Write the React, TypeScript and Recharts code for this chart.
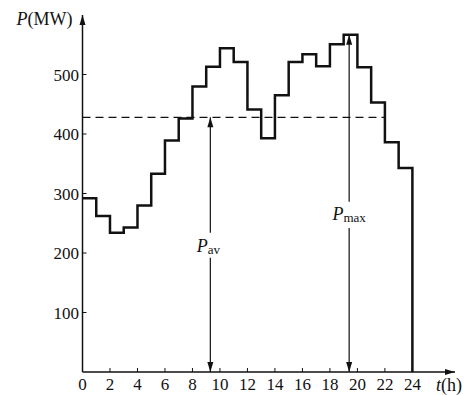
import { LineChart, Line, XAxis, YAxis, ReferenceLine, ReferenceDot } from 'recharts'

// hourly load (MW)
const hours = [0, 1, 2, 3, 4, 5, 6, 7, 8, 9, 10, 11, 12, 13, 14, 15, 16, 17, 18, 19, 20, 21, 22, 23]
const loads = [292, 262, 234, 243, 280, 333, 389, 426, 480, 513, 544, 521, 441, 393, 465, 521, 534, 514, 551, 567, 512, 453, 386, 343]

const xTicks = [0, 2, 4, 6, 8, 10, 12, 14, 16, 18, 20, 22, 24]
const yTicks = [100, 200, 300, 400, 500]

const pAv = 428
const pMax = 567
const tAv = 9.3
const tMax = 19.4
const xMax = 27.1
const yMax = 600

const ink = '#111'
const serif = '"Liberation Serif", "DejaVu Serif", serif'

const data = [
  ...hours.map((t, i) => ({ t, p: loads[i] })),
  { t: 24, p: 0 },
]

const ArrowHead = ({ cx, cy, dir }: any) => {
  const L = 10
  const W = 3
  let pts = ''
  if (dir === 'up') pts = `${cx},${cy} ${cx - W},${cy + L} ${cx + W},${cy + L}`
  if (dir === 'down') pts = `${cx},${cy} ${cx - W},${cy - L} ${cx + W},${cy - L}`
  if (dir === 'right') pts = `${cx},${cy} ${cx - L},${cy - W} ${cx - L},${cy + W}`
  return <polygon points={pts} fill={ink} />
}

const SubLabel = ({ cx, cy, main, sub }: any) => (
  <text x={cx} y={cy} textAnchor="middle" fontFamily={serif} fill={ink}>
    <tspan fontSize={18} fontStyle="italic">{main}</tspan>
    <tspan fontSize={13} dy={2}>{sub}</tspan>
  </text>
)

const XTick = ({ x, y, payload }: any) => (
  <text x={x} y={y} dy={13} textAnchor="middle" fontFamily={serif} fontSize={17} fill={ink}>
    {payload.value}
  </text>
)

const YTick = ({ x, y, payload }: any) => (
  <text x={x} y={y} dy={6} textAnchor="end" fontFamily={serif} fontSize={17} fill={ink}>
    {payload.value}
  </text>
)

export default function App() {
  return (
    <div style={{ position: 'absolute', left: 0, top: 0, background: '#fff', fontFamily: serif }}>
      <LineChart width={469} height={395} data={data} margin={{ top: 15, right: 14, bottom: 0, left: 0 }}>
        <XAxis
          dataKey="t"
          type="number"
          domain={[0, xMax]}
          ticks={xTicks}
          height={23}
          tickSize={-4}
          tickMargin={9}
          axisLine={{ stroke: ink, strokeWidth: 1.5 }}
          tickLine={{ stroke: ink }}
          tick={<XTick />}
        />
        <YAxis
          type="number"
          domain={[0, yMax]}
          ticks={yTicks}
          width={82.5}
          tickSize={-4}
          tickMargin={7.5}
          axisLine={{ stroke: ink, strokeWidth: 1.5 }}
          tickLine={{ stroke: ink }}
          tick={<YTick />}
        />
        <ReferenceLine
          segment={[{ x: 0, y: pAv }, { x: 22, y: pAv }]}
          stroke={ink}
          strokeWidth={1.3}
          strokeDasharray="8 5"
        />
        <ReferenceLine segment={[{ x: tAv, y: 0 }, { x: tAv, y: 192 }]} stroke={ink} strokeWidth={1.2} />
        <ReferenceLine segment={[{ x: tAv, y: 234 }, { x: tAv, y: pAv }]} stroke={ink} strokeWidth={1.2} />
        <ReferenceLine segment={[{ x: tMax, y: 0 }, { x: tMax, y: 242 }]} stroke={ink} strokeWidth={1.2} />
        <ReferenceLine segment={[{ x: tMax, y: 286 }, { x: tMax, y: pMax }]} stroke={ink} strokeWidth={1.2} />
        <Line
          type="stepAfter"
          dataKey="p"
          stroke={ink}
          strokeWidth={2.5}
          dot={false}
          isAnimationActive={false}
        />
        <ReferenceDot x={tAv} y={0} r={0} ifOverflow="visible" shape={(p: any) => <ArrowHead {...p} dir="down" />} />
        <ReferenceDot x={tAv} y={pAv} r={0} ifOverflow="visible" shape={(p: any) => <ArrowHead {...p} dir="up" />} />
        <ReferenceDot x={tMax} y={0} r={0} ifOverflow="visible" shape={(p: any) => <ArrowHead {...p} dir="down" />} />
        <ReferenceDot x={tMax} y={pMax} r={0} ifOverflow="visible" shape={(p: any) => <ArrowHead {...p} dir="up" />} />
        <ReferenceDot x={0} y={yMax} r={0} ifOverflow="visible" shape={(p: any) => <ArrowHead {...p} dir="up" />} />
        <ReferenceDot x={xMax} y={0} r={0} ifOverflow="visible" shape={(p: any) => <ArrowHead {...p} dir="right" />} />
        <ReferenceDot
          x={tAv}
          y={210}
          r={0}
          ifOverflow="visible"
          shape={(p: any) => <SubLabel cx={p.cx - 2} cy={p.cy + 5} main="P" sub="av" />}
        />
        <ReferenceDot
          x={tMax}
          y={264}
          r={0}
          ifOverflow="visible"
          shape={(p: any) => <SubLabel cx={p.cx} cy={p.cy + 5} main="P" sub="max" />}
        />
        <ReferenceDot
          x={0}
          y={yMax}
          r={0}
          ifOverflow="visible"
          shape={(p: any) => (
            <text x={p.cx - 10} y={p.cy + 10} textAnchor="end" fontFamily={serif} fontSize={18} fill={ink}>
              <tspan fontStyle="italic">P</tspan>(MW)
            </text>
          )}
        />
        <ReferenceDot
          x={xMax}
          y={0}
          r={0}
          ifOverflow="visible"
          shape={(p: any) => (
            <text x={p.cx + 7} y={p.cy + 19} textAnchor="end" fontFamily={serif} fontSize={18} fill={ink}>
              <tspan fontStyle="italic">t</tspan>(h)
            </text>
          )}
        />
      </LineChart>
    </div>
  )
}
